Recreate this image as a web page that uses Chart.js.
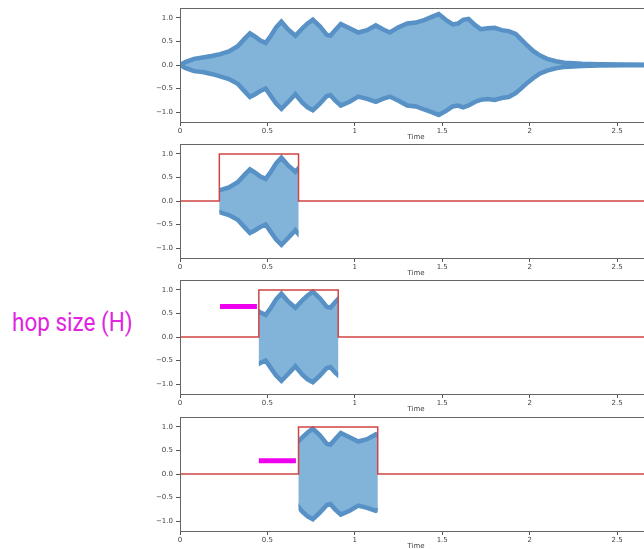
<!DOCTYPE html>
<html>
<head>
<meta charset="utf-8">
<script src="https://cdn.jsdelivr.net/npm/chart.js@4.4.0/dist/chart.umd.min.js"></script>
<style>
  html, body { margin: 0; padding: 0; background: #fff; overflow: hidden; }
  #wrap { position: relative; width: 644px; height: 549px; overflow: hidden; }
  canvas { position: absolute; left: 0; }
  #hop {
    position: absolute; left: 12px; top: 310px; white-space: nowrap;
    font-family: Roboto, "Liberation Sans", sans-serif; font-size: 25px; line-height: 1;
    color: #e024e0; transform: scaleX(0.9); transform-origin: left top;
  }
</style>
</head>
<body>
<div id="wrap">
  <div id="hop">hop size (H)</div>
  <canvas id="c0" width="652" height="141" style="top:0px"></canvas>
  <canvas id="c1" width="652" height="141" style="top:136px"></canvas>
  <canvas id="c2" width="652" height="141" style="top:272px"></canvas>
  <canvas id="c3" width="652" height="141" style="top:409px"></canvas>
</div>
<script>
// ------------------------------data------------------------------------------------
// envelope of the waveform (upper / lower)
const time = [0.00, 0.03, 0.08, 0.13, 0.18, 0.23, 0.28, 0.33, 0.37, 0.40, 0.43, 0.46, 0.49, 0.52, 0.55,
  0.58, 0.62, 0.66, 0.70, 0.73, 0.76, 0.80, 0.84, 0.86, 0.89, 0.92, 0.97, 1.02, 1.07, 1.12, 1.16,
  1.20, 1.25, 1.30, 1.35, 1.40, 1.44, 1.48, 1.52, 1.56, 1.59, 1.62, 1.65, 1.69, 1.72, 1.76, 1.80,
  1.84, 1.88, 1.92, 1.95, 1.98, 2.02, 2.06, 2.10, 2.15, 2.20, 2.30, 2.40, 2.55, 2.70];
const upper = [0.00, 0.06, 0.13, 0.16, 0.19, 0.23, 0.29, 0.40, 0.56, 0.67, 0.60, 0.52, 0.47, 0.62, 0.80,
  0.92, 0.75, 0.62, 0.78, 0.88, 0.96, 0.82, 0.64, 0.62, 0.75, 0.87, 0.78, 0.69, 0.74, 0.84, 0.76,
  0.69, 0.80, 0.88, 0.90, 0.96, 1.02, 1.08, 0.96, 0.86, 0.88, 0.96, 0.98, 0.84, 0.76, 0.78, 0.79,
  0.74, 0.72, 0.66, 0.55, 0.44, 0.30, 0.20, 0.13, 0.08, 0.05, 0.025, 0.015, 0.008, 0.004];
const lower = [0.00, -0.06, -0.13, -0.15, -0.19, -0.24, -0.30, -0.40, -0.56, -0.68, -0.62, -0.55, -0.50, -0.66, -0.82,
  -0.93, -0.78, -0.62, -0.80, -0.90, -0.96, -0.82, -0.66, -0.64, -0.76, -0.86, -0.78, -0.67, -0.72, -0.78, -0.72,
  -0.67, -0.76, -0.86, -0.88, -0.95, -1.00, -1.06, -0.98, -0.88, -0.86, -0.90, -0.86, -0.78, -0.74, -0.72, -0.74,
  -0.70, -0.68, -0.60, -0.50, -0.40, -0.28, -0.18, -0.12, -0.07, -0.04, -0.02, -0.012, -0.006, -0.003];

// analysis window per panel (first panel = whole signal)
const winStart = [null, 0.225, 0.451, 0.678];
const winEnd   = [null, 0.678, 0.905, 1.131];
// magenta hop arrows
const hopStart = [null, null, 0.229, 0.451];
const hopEnd   = [null, null, 0.440, 0.663];
const hopY     = [null, null, 0.65, 0.28];

const xTicks = [0, 0.5, 1, 1.5, 2, 2.5];
const xTickLabels = ['0', '0.5', '1', '1.5', '2', '2.5'];
const yTicks = [-1, -0.5, 0, 0.5, 1];
const yTickLabels = ['\u22121.0', '\u22120.5', '0.0', '0.5', '1.0'];

const xMax = 2.7;
const bandBlue = '#5891c6';
const fillBlue = '#82b3d9';
const winRed = '#cf4444';
const hopPink = '#ee00ee';

// ------------------------------chartJS------------------------------------------------
function makePanel(i) {
  const pts = (ys) => time.map((t, k) => ({ x: t, y: ys[k] }));
  const datasets = [
    { data: pts(upper), borderColor: bandBlue, borderWidth: 4.5, pointRadius: 0, fill: false, order: 2 },
    { data: pts(lower), borderColor: bandBlue, borderWidth: 4.5, pointRadius: 0, fill: '-1', backgroundColor: fillBlue, order: 2 },
  ];
  if (winStart[i] != null) {
    datasets.push({
      data: [{ x: 0, y: 0 }, { x: winStart[i], y: 0 }, { x: winStart[i], y: 1 },
             { x: winEnd[i], y: 1 }, { x: winEnd[i], y: 0 }, { x: xMax, y: 0 }],
      borderColor: winRed, borderWidth: 1.5, pointRadius: 0, fill: false, order: 0
    });
  }
  if (hopStart[i] != null) {
    datasets.push({
      data: [{ x: hopStart[i], y: hopY[i] }, { x: hopEnd[i], y: hopY[i] }],
      borderColor: hopPink, borderWidth: 5, borderCapStyle: 'butt', pointRadius: 0, fill: false, order: 0
    });
  }

  // only show the waveform inside the window
  const windowClip = {
    id: 'windowClip',
    beforeDatasetsDraw(chart) {
      if (winStart[i] == null) return;
      const x = chart.scales.x, a = chart.chartArea, ctx = chart.ctx;
      const x0 = x.getPixelForValue(winStart[i]), x1 = x.getPixelForValue(winEnd[i]);
      ctx.save();
      ctx.beginPath();
      ctx.rect(x0, a.top, x1 - x0, a.bottom - a.top);
      ctx.clip();
    },
    afterDatasetDraw(chart, args) {
      if (winStart[i] != null && args.index === 0) chart.ctx.restore();
    }
  };
  const frame = {
    id: 'frame',
    afterDraw(chart) {
      const a = chart.chartArea, ctx = chart.ctx;
      ctx.save();
      ctx.strokeStyle = '#666';
      ctx.lineWidth = 1;
      ctx.strokeRect(Math.round(a.left) + 0.5, Math.round(a.top) + 0.5, a.right - a.left, a.bottom - a.top);
      ctx.restore();
    }
  };

  const tickFont = { family: 'DejaVu Sans', size: 7 };
  return new Chart(document.getElementById('c' + i), {
    type: 'line',
    data: { datasets: datasets },
    options: {
      responsive: false,
      animation: false,
      layout: { padding: { top: 8, left: 0, right: 0, bottom: 0 } },
      elements: { line: { tension: 0 } },
      plugins: { legend: { display: false }, tooltip: { enabled: false } },
      scales: {
        x: {
          type: 'linear', min: 0, max: xMax,
          afterBuildTicks: (s) => { s.ticks = xTicks.map(v => ({ value: v })); },
          afterFit: (s) => { s.height = 19; },
          ticks: { font: tickFont, color: '#444', padding: 1, maxRotation: 0, autoSkip: false,
                   callback: (v, idx) => xTickLabels[idx] },
          grid: { drawOnChartArea: false, tickLength: 4, tickColor: '#555' },
          border: { display: false },
          title: { display: true, text: 'Time', font: tickFont, color: '#444', padding: 0 }
        },
        y: {
          min: -1.21, max: 1.21,
          afterBuildTicks: (s) => { s.ticks = yTicks.map(v => ({ value: v })); },
          afterFit: (s) => { s.width = 180; },
          ticks: { font: tickFont, color: '#444', padding: 3, callback: (v, idx) => yTickLabels[idx] },
          grid: { drawOnChartArea: false, tickLength: 4, tickColor: '#555' },
          border: { display: false }
        }
      }
    },
    plugins: [windowClip, frame]
  });
}

for (let i = 0; i < 4; i++) makePanel(i);
</script>
</body>
</html>
